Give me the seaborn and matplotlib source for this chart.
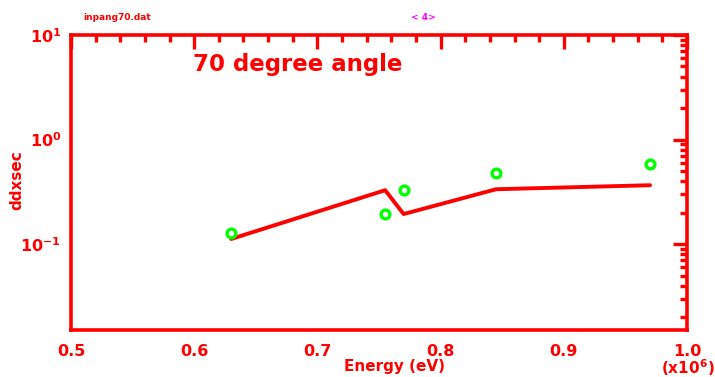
import matplotlib
matplotlib.use("Agg")
import matplotlib.pyplot as plt
import matplotlib.ticker as mticker
import seaborn as sns
import pandas as pd

# Data (energy in units of 1e6 eV)
line_energy = [0.63, 0.755, 0.77, 0.845, 0.97]
line_ddxsec = [0.112, 0.328, 0.194, 0.335, 0.366]
pt_energy = [0.63, 0.755, 0.77, 0.845, 0.97]
pt_ddxsec = [0.129, 0.194, 0.328, 0.480, 0.581]
x_ticks = [0.5, 0.6, 0.7, 0.8, 0.9, 1.0]
x_ticklabels = ["0.5", "0.6", "0.7", "0.8", "0.9", "1.0"]

sns.set_theme(style="white")
plt.rcParams['font.family'] = ['DejaVu Sans']

RED = "#ff0000"
GREEN = "#00ff00"

fig = plt.figure(figsize=(7.15, 3.77), dpi=100)
ax = fig.add_axes([71/715, 47/377, 616/715, 295/377])

df_line = pd.DataFrame({"Energy": line_energy, "ddxsec": line_ddxsec})
df_pts = pd.DataFrame({"Energy": pt_energy, "ddxsec": pt_ddxsec})

sns.lineplot(data=df_line, x="Energy", y="ddxsec", ax=ax, color=RED, lw=2.8,
             sort=False, estimator=None)
sns.scatterplot(data=df_pts, x="Energy", y="ddxsec", ax=ax, marker="o", s=40,
                facecolor="white", edgecolor=GREEN, linewidth=2.4, zorder=5)

ax.set_yscale("log")
ax.set_xlim(0.5, 1.0)
ax.set_ylim(10**-1.821, 10)

for sp in ax.spines.values():
    sp.set_color(RED)
    sp.set_linewidth(2.6)

ax.set_xticks(x_ticks)
ax.set_xticklabels(x_ticklabels)
ax.xaxis.set_minor_locator(mticker.MultipleLocator(0.02))
ax.yaxis.set_major_locator(mticker.LogLocator(base=10, numticks=10))
ax.yaxis.set_minor_locator(mticker.LogLocator(base=10, subs=range(2, 10), numticks=20))
ax.yaxis.set_minor_formatter(mticker.NullFormatter())

ax.tick_params(which="both", direction="in", top=True, right=True, color=RED,
               labelcolor=RED, width=2.4)
ax.tick_params(which="major", length=10, labelsize=11.5)
ax.tick_params(axis="x", which="major", pad=10)
ax.tick_params(axis="y", which="major", pad=7)
ax.tick_params(which="minor", length=5)
for lab in ax.get_xticklabels() + ax.get_yticklabels():
    lab.set_fontweight("bold")

ax.set_xlabel("Energy (eV)", color=RED, fontsize=11, fontweight="bold")
ax.set_ylabel("ddxsec", color=RED, fontsize=11, fontweight="bold")
ax.xaxis.set_label_coords((395 - 71) / 616, (330 - 366) / 295)
ax.yaxis.set_label_coords((17 - 71) / 616, (330 - 180) / 295)
ax.xaxis.label.set_va("center")
ax.yaxis.label.set_va("center")

ax.text(0.198, 0.9, "70 degree angle", transform=ax.transAxes, color=RED,
        fontsize=16.5, fontweight="bold", ha="left", va="center")

fig.text(83/715, 1 - 17/377, "inpang70.dat", color=RED, fontsize=6.5,
         fontweight="bold", ha="left", va="center")
fig.text(423/715, 1 - 17/377, "< 4>", color="#ff00ff", fontsize=6.5,
         fontweight="bold", ha="center", va="center")
fig.text(688/715, 1 - 368/377, r"(x10$^{\mathbf{6}}$)", color=RED, fontsize=11,
         fontweight="bold", ha="center", va="center")

ax.grid(False)
fig.savefig("out.png", dpi=100, facecolor="white")
